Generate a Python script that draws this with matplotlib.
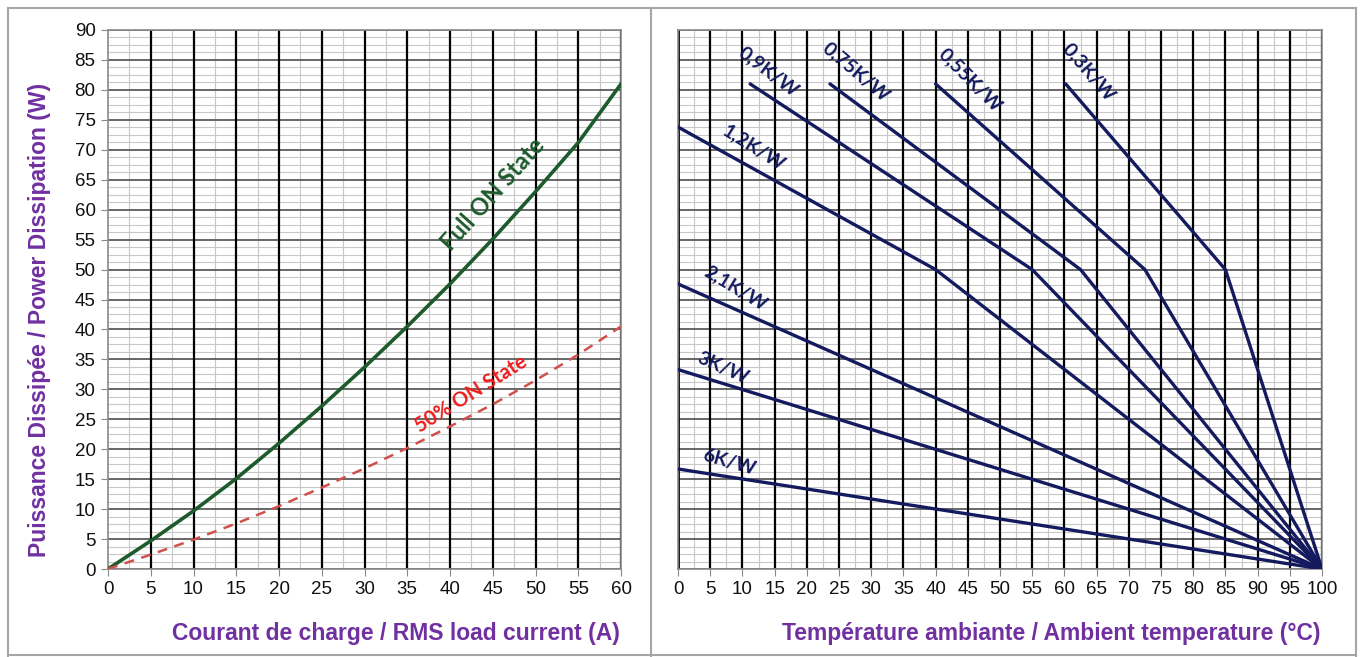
import numpy as np
import matplotlib
matplotlib.use('Agg')
import matplotlib.pyplot as plt
from matplotlib.lines import Line2D
from matplotlib.ticker import MultipleLocator

# left chart: dissipated power vs RMS load current
current = [0, 5, 10, 15, 20, 25, 30, 35, 40, 45, 50, 55, 60]
p_full = [0, 4.7, 9.7, 15.1, 21.0, 27.2, 33.7, 40.5, 47.6, 55.1, 63.0, 71.2, 81.0]
p_half = [0, 2.4, 4.9, 7.6, 10.5, 13.6, 16.8, 20.2, 23.8, 27.5, 31.5, 35.8, 40.5]

# right chart: derating vs ambient temperature, one polyline per heatsink
rth_labels = ['6K/W', '3K/W', '2,1K/W', '1,2K/W', '0,9K/W', '0,75K/W', '0,55K/W', '0,3K/W']
rth_x = [[0, 100], [0, 100], [0, 100], [0, 40, 100], [11.2, 55, 100],
         [23.6, 62.5, 100], [40, 72.5, 100], [60.2, 85, 100]]
rth_y = [[16.7, 0], [33.3, 0], [47.6, 0], [73.8, 50, 0], [81, 50, 0],
         [81, 50, 0], [81, 50, 0], [81, 50, 0]]
# label position / angle for each curve
lab_pos = [(7.9, 17.8), (7.0, 33.6), (8.9, 47.0), (11.8, 70.4), (14.1, 83.0),
           (27.6, 83.0), (45.4, 81.6), (63.8, 83.0)]
lab_rot = [-16, -24, -31, -32, -37, -40, -45, -49]

purple = '#7030A0'
navy = '#141a5e'
green = '#1d5a2c'

fig = plt.figure(figsize=(13.62, 6.57), dpi=100)
ax1 = fig.add_axes([108/1362, 1-569/657, 513/1362, 539/657])
ax2 = fig.add_axes([678/1362, 1-569/657, 644/1362, 539/657])

# frame around the two panels
for xs, ys in [([8, 1356], [8, 8]), ([8, 8], [8, 657]), ([1356, 1356], [8, 657]),
               ([651, 651], [8, 657]), ([8, 1356], [655, 655])]:
    fig.add_artist(Line2D([x/1362 for x in xs], [1-y/657 for y in ys],
                          color='#a6a6a6', lw=1.5))


def grid_setup(ax, xmax):
    ax.set_xlim(0, xmax)
    ax.set_ylim(0, 90)
    ax.xaxis.set_major_locator(MultipleLocator(5))
    ax.xaxis.set_minor_locator(MultipleLocator(2.5))
    ax.yaxis.set_major_locator(MultipleLocator(5))
    ax.yaxis.set_minor_locator(MultipleLocator(1.25))
    ax.grid(which='minor', color='#c8c8c8', lw=0.8)
    ax.grid(which='major', axis='y', color='#5a5a5a', lw=1.3)
    for v in np.arange(5, xmax + 1, 5):
        ax.axvline(v, color='black', lw=1.6, zorder=1.6)
    for s in ax.spines.values():
        s.set_color('#8a8a8a')
        s.set_linewidth(1.2)
    ax.tick_params(which='minor', length=0)
    ax.tick_params(which='major', length=5, color='#8a8a8a', labelsize=13.5,
                   labelcolor='#111111', pad=4)
    for t in ax.get_xticklabels() + ax.get_yticklabels():
        t.set_fontfamily('Liberation Sans')


grid_setup(ax1, 60)
grid_setup(ax2, 100)
ax2.axvline(0, color='black', lw=2, zorder=1.6)
ax2.tick_params(axis='y', left=False, labelleft=False)

ax1.plot(current, p_full, color=green, lw=2.6, zorder=3)
ax1.plot(current, p_half, color='#d0504c', lw=1.8, ls=(0, (4, 3)), zorder=3)
ax1.text(45.0, 62.6, 'Full ON State', rotation=48, color=green, fontsize=17,
         fontweight='bold', family='Lato', ha='center', va='center', zorder=4)
ax1.text(42.5, 29.2, '50% ON State', rotation=32, color='#ee1c1c', fontsize=14.5,
         fontweight='bold', family='Lato', ha='center', va='center', zorder=4)

for xs, ys, lab, (tx, ty), rot in zip(rth_x, rth_y, rth_labels, lab_pos, lab_rot):
    ax2.plot(xs, ys, color=navy, lw=2.4, solid_joinstyle='round',
             solid_capstyle='round', zorder=3)
    ax2.text(tx, ty, lab, rotation=rot, color=navy, fontsize=14,
             fontweight='bold', family='Lato', ha='center', va='center', zorder=4)

lab_font = dict(color=purple, fontsize=16.5, fontweight='bold', family='Liberation Sans')
ax1.set_xlabel('Courant de charge / RMS load current (A)', loc='right', **lab_font)
ax1.xaxis.set_label_coords(0.998, -0.099)
ax1.set_ylabel('Puissance Dissipée / Power Dissipation (W)', **lab_font)
ax1.yaxis.set_label_coords(-0.111, 0.462)
ax2.set_xlabel('Température ambiante / Ambient temperature (°C)', loc='right', **lab_font)
ax2.xaxis.set_label_coords(0.997, -0.099)

fig.savefig('out.png', dpi=100)
